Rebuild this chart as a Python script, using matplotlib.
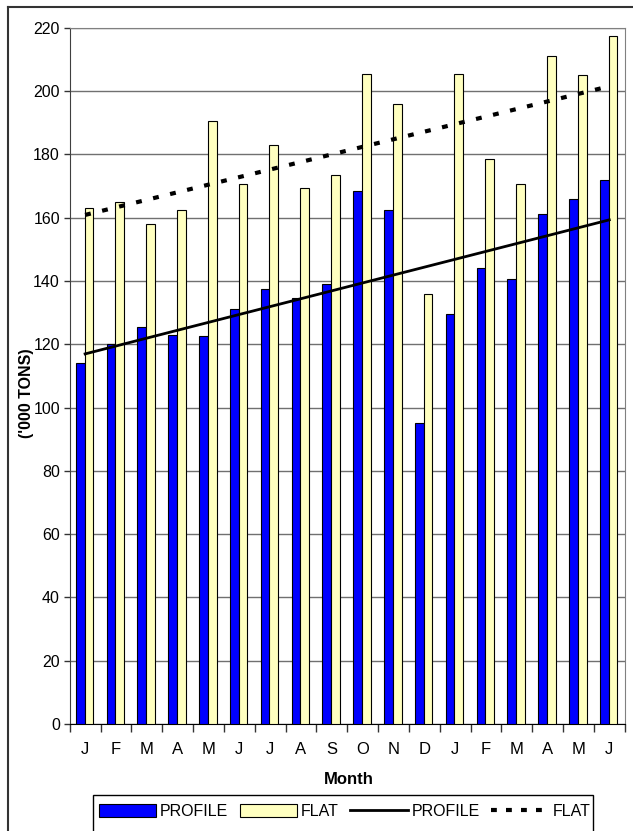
import numpy as np
import matplotlib.pyplot as plt
from matplotlib.patches import Patch, Rectangle
from matplotlib.lines import Line2D

plt.rcParams['font.family'] = ['Liberation Sans', 'DejaVu Sans']

months = ['J', 'F', 'M', 'A', 'M', 'J', 'J', 'A', 'S', 'O', 'N', 'D',
          'J', 'F', 'M', 'A', 'M', 'J']
profile = [114, 120, 125.5, 123, 122.5, 131, 137.5, 134.5, 139, 168.5, 162.5, 95,
           129.5, 144, 140.5, 161, 166, 172]
flat = [163, 165, 158, 162.5, 190.5, 170.5, 183, 169.5, 173.5, 205.5, 196, 136,
        205.5, 178.5, 170.5, 211, 205, 217.5]

x = np.arange(len(months))

# linear trend lines, as excel draws them
p_fit = np.polyval(np.polyfit(x, profile, 1), x)
f_fit = np.polyval(np.polyfit(x, flat, 1), x)

W, H = 633, 831
fig = plt.figure(figsize=(W / 100, H / 100), dpi=100)
ax = fig.add_axes([69.7 / W, 1 - 724 / H, 555 / W, (724 - 27.7) / H])

blue = '#0000FF'
yellow = '#FFFFC0'
bw = 0.285
ax.bar(x - bw / 2 - 0.02, profile, bw, color=blue, edgecolor='black', linewidth=0.8, zorder=3)
ax.bar(x + bw / 2 - 0.02, flat, bw, color=yellow, edgecolor='black', linewidth=0.8, zorder=3)

ax.plot(x, p_fit, color='black', lw=2, zorder=4)
ax.plot(x, f_fit, color='black', lw=3, linestyle=(0, (1.4, 2.8)), zorder=4)

ax.set_xlim(-0.5, len(months) - 0.5)
ax.set_ylim(0, 220)
ax.set_yticks(range(0, 221, 20))
ax.yaxis.grid(True, color='#707070', lw=1, zorder=0)

ax.set_xticks(x)
ax.set_xticklabels(months)
ax.set_xticks(np.arange(-0.5, len(months)), minor=True)
ax.tick_params(axis='x', which='major', length=0, pad=13, labelsize=12)
ax.tick_params(axis='x', which='minor', length=6, width=1, color='#333333', direction='out')
ax.tick_params(axis='y', length=4, width=1, color='#333333', pad=3, labelsize=11.5)

ax.spines['left'].set_color('#404040')
ax.spines['bottom'].set_color('black')
ax.spines['top'].set_color('#808080')
ax.spines['right'].set_color('#808080')

fig.text(349 / W, 1 - 780 / H, 'Month', ha='center', va='center', fontsize=12, fontweight='bold')
fig.text(26 / W, 1 - 393 / H, "('000 TONS)", ha='center', va='center', rotation=90,
         fontsize=11.5, fontweight='bold')

# outer chart border
fig.add_artist(Line2D([8 / W, 1], [1 - 7.3 / H, 1 - 7.3 / H], transform=fig.transFigure,
                      color='#333333', lw=1.5))
fig.add_artist(Line2D([8.3 / W, 8.3 / W], [0, 1 - 7.3 / H], transform=fig.transFigure,
                      color='#333333', lw=1.5))

# legend box runs past the bottom edge of the picture
fig.add_artist(Rectangle((93 / W, 1 - 845 / H), 500 / W, 50 / H, transform=fig.transFigure,
                         facecolor='white', edgecolor='black', lw=1))

handles = [Patch(facecolor=blue, edgecolor='black', lw=0.8),
           Patch(facecolor=yellow, edgecolor='black', lw=0.8),
           Line2D([], [], color='black', lw=2),
           Line2D([], [], color='black', lw=3, linestyle=(0, (1.4, 2.2)))]
leg = fig.legend(handles, ['PROFILE', 'FLAT', 'PROFILE', 'FLAT'], ncol=4,
                 loc='upper left', bbox_to_anchor=(93 / W, 1 - 798.5 / H),
                 fontsize=11.5, handlelength=3.6, handleheight=0.9, handletextpad=0.25,
                 columnspacing=0.7, borderpad=0.35, borderaxespad=0, frameon=False)

fig.savefig('out.png', dpi=100)
